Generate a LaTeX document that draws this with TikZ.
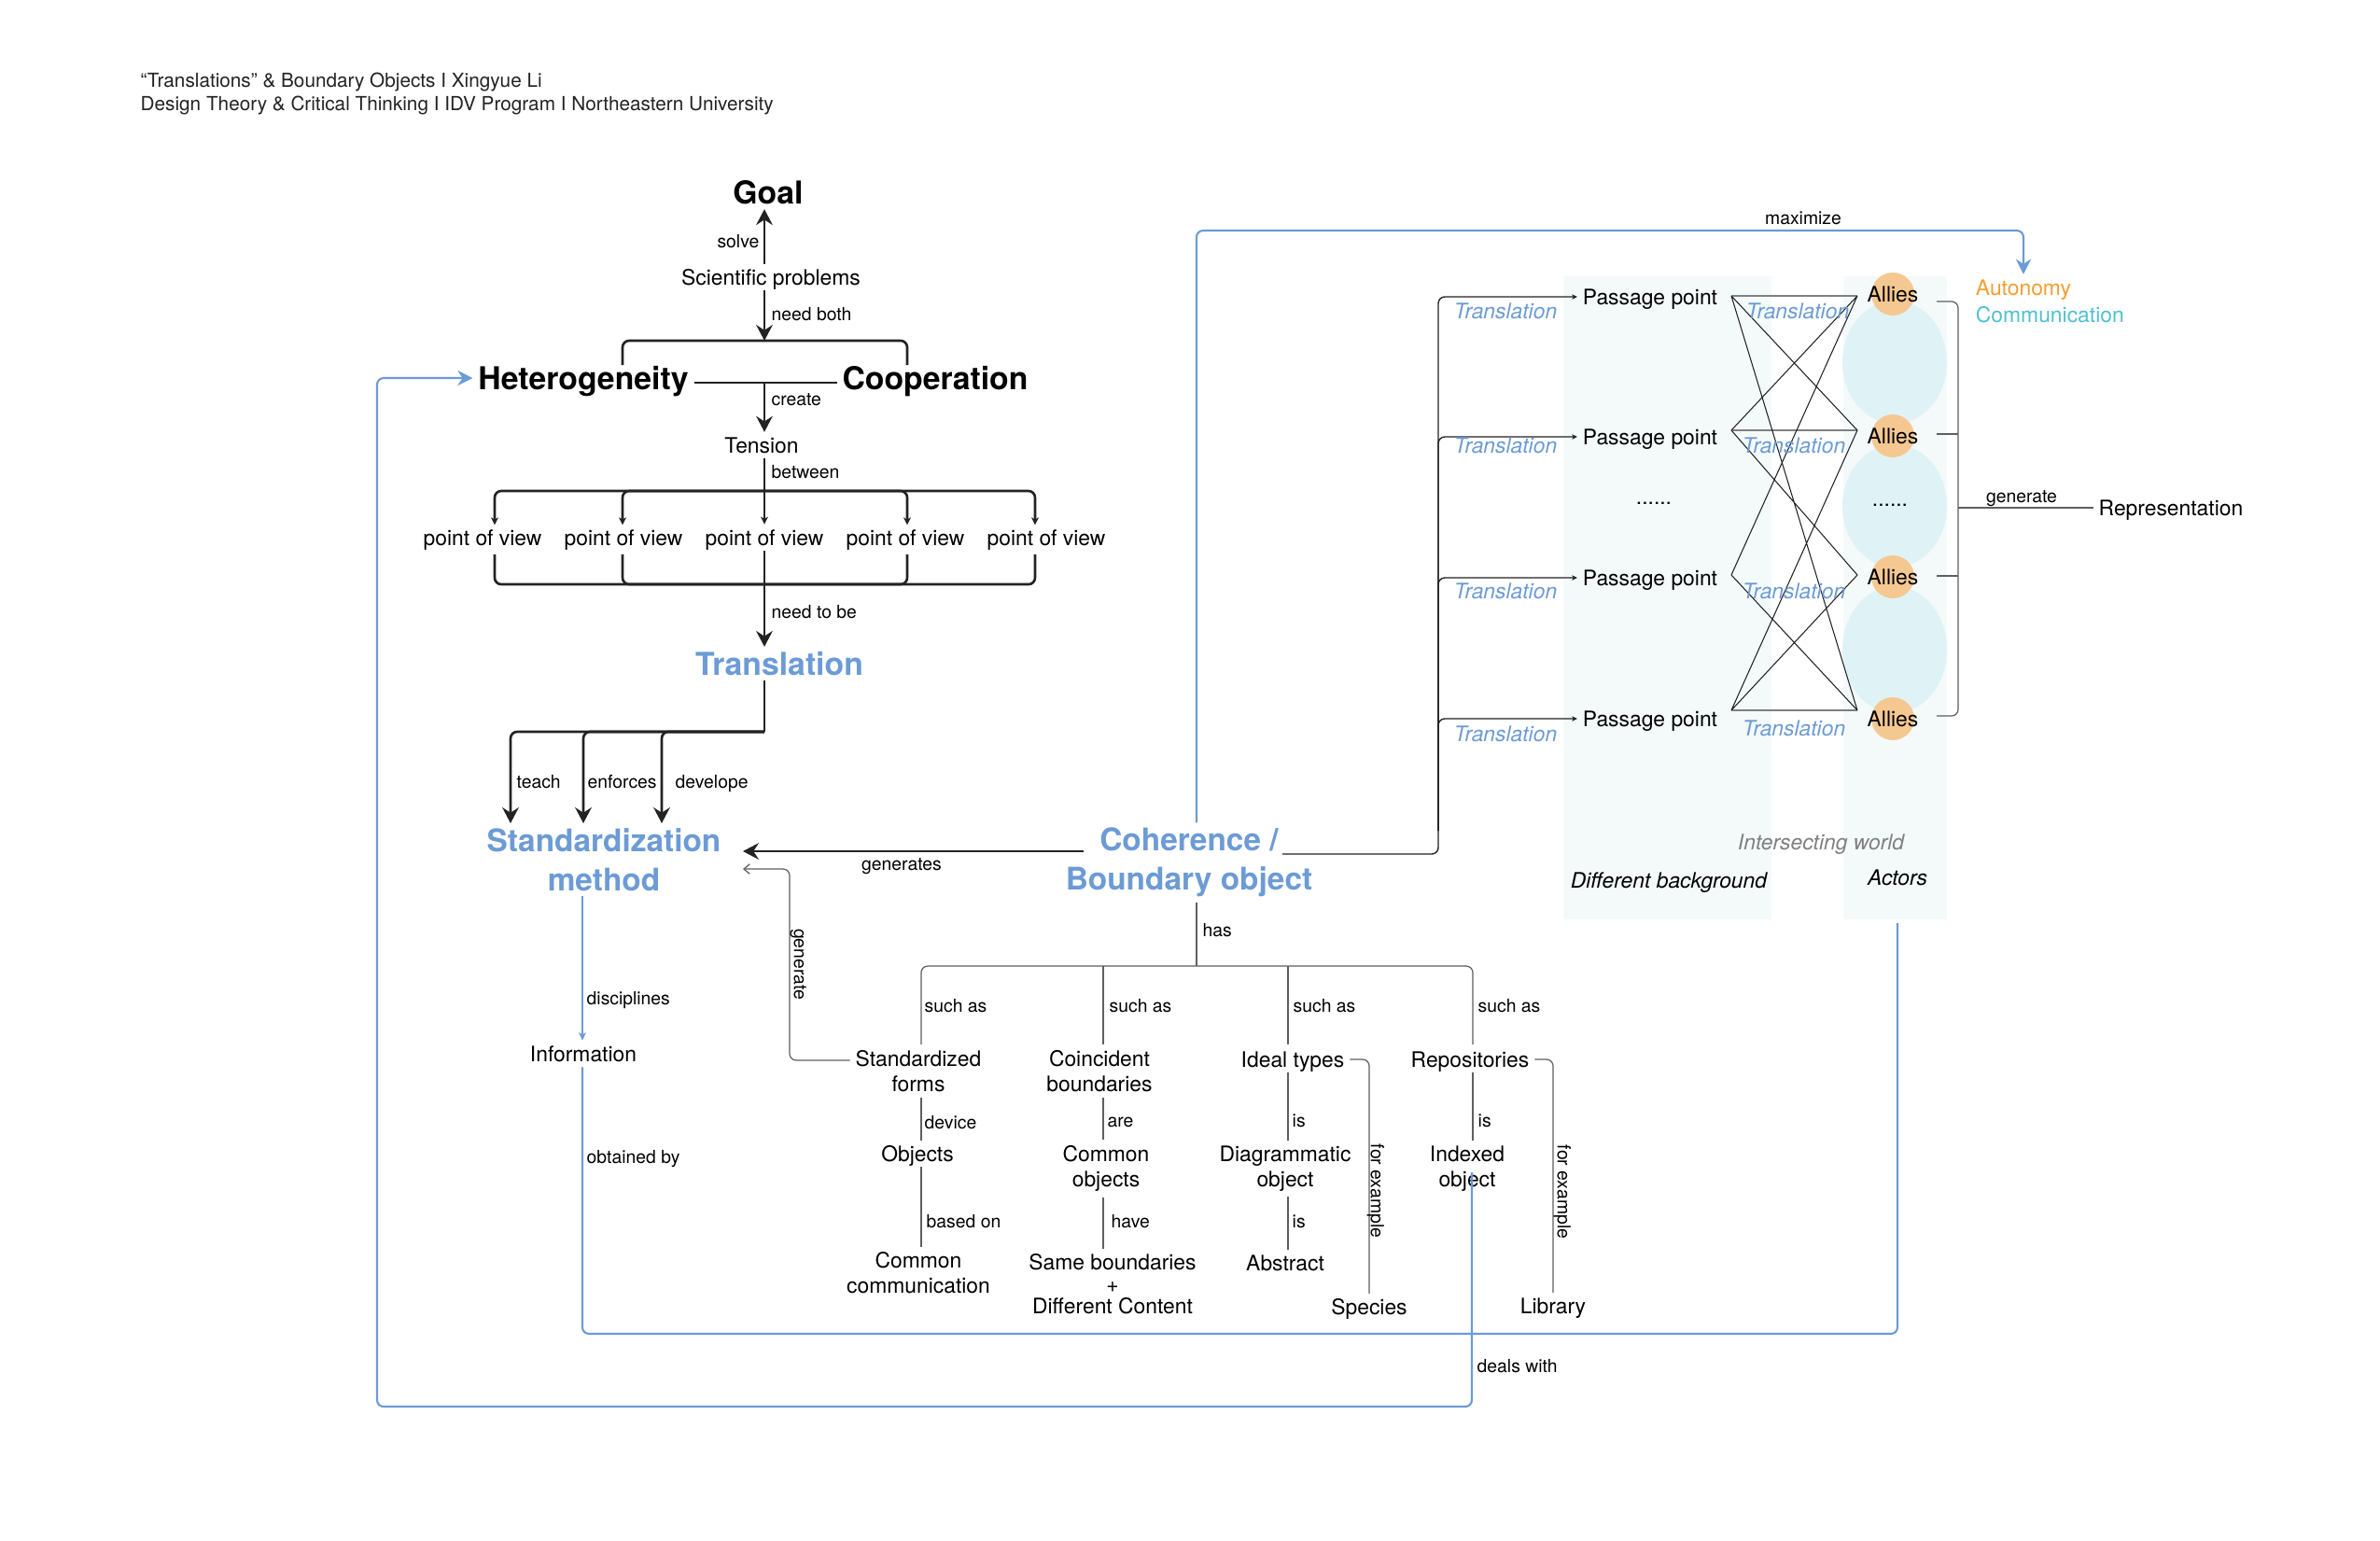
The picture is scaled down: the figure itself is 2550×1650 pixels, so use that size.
\documentclass[tikz,border=0pt]{standalone}
\usepackage{fontspec}
\setmainfont{TeX Gyre Heros}
\usetikzlibrary{arrows.meta}
\definecolor{bl}{RGB}{108,155,213}
\definecolor{org}{RGB}{245,158,50}
\definecolor{tea}{RGB}{80,192,208}
\definecolor{allyc}{RGB}{246,200,145}
\definecolor{ellc}{RGB}{223,243,246}
\definecolor{panc}{RGB}{244,250,250}
\definecolor{gtx}{RGB}{128,128,128}
\definecolor{ln}{RGB}{95,95,95}
\definecolor{dk}{RGB}{35,35,35}
\begin{document}
\begin{tikzpicture}[x=0.01cm,y=-0.01cm,
 hd/.style={inner sep=0pt,font=\fontsize{5.9}{7}\selectfont,text=dk,anchor=west},
 tx/.style={inner sep=1.5pt,font=\fontsize{6.5}{7.8}\selectfont,text height=4.7pt,text depth=0pt},
 ml/.style={inner sep=1.5pt,font=\fontsize{6.5}{7.7}\selectfont,align=center},
 lb/.style={inner sep=0pt,font=\fontsize{5.5}{6.6}\selectfont,text height=4pt,text depth=0pt},
 bg/.style={inner sep=1.5pt,font=\fontsize{9.6}{11.5}\selectfont\bfseries,text height=6.9pt,text depth=0pt},
 bb/.style={inner sep=1.5pt,font=\fontsize{9.5}{11.8}\selectfont\bfseries,text=bl,align=center},
 bbs/.style={inner sep=1.5pt,font=\fontsize{9.6}{11.5}\selectfont\bfseries,text=bl,text height=6.9pt,text depth=0pt},
 itx/.style={inner sep=0pt,font=\fontsize{6.5}{7.8}\selectfont\itshape,text height=4.7pt,text depth=0pt},
 thk/.style={draw=dk,line width=0.75pt},
 thn/.style={draw=ln,line width=0.35pt},
 thd/.style={draw=dk,line width=0.4pt},
 xln/.style={draw=dk,line width=0.3pt},
 hln/.style={draw=gray,line width=0.5pt},
 blu/.style={draw=bl,line width=0.6pt},
 bigarr/.style={-{Stealth[length=4.8pt,width=5pt,inset=1.6pt]}},
 smarr/.style={-{Stealth[length=2.3pt,width=2.2pt,inset=0.6pt]}},
 tinyarr/.style={-{Stealth[length=1.6pt,width=1.5pt,inset=0.4pt]}},
 bluarr/.style={-{Stealth[length=4.6pt,width=4.6pt,inset=1.5pt]}},
 bsmarr/.style={-{Stealth[length=2.4pt,width=2.2pt,inset=0.6pt]}},
 opnarr/.style={-{Straight Barb[length=1.8pt,width=3pt]}},
]
\fill[white] (0,0) rectangle (2550,1650);
\useasboundingbox (0,0) rectangle (2550,1650);

% header
\node[hd] (h1) at (150,88) {“Translations” \& Boundary Objects I Xingyue Li};
\node[hd] (h2) at (150,113) {Design Theory \& Critical Thinking I IDV Program I Northeastern University};

% ---------- top chain ----------
\coordinate (cx) at (819,0);
\node[bg] (goal) at (823,206) {Goal};
\node[tx] (sci) at (826,297) {Scientific problems};
\draw[thk,bigarr] (sci.north -| cx) -- (goal.south -| cx);
\node[lb,anchor=east] at (814,258) {solve};
\coordinate (brt) at (819,365);
\draw[thk,bigarr] (sci.south -| cx) -- (brt);
\node[lb,anchor=west] at (826,336) {need both};
\node[bg] (het) at (625,405) {Heterogeneity};
\node[bg] (coop) at (1002,405) {Cooperation};
\draw[thk,rounded corners=2pt] (667,391) |- (brt) -| (972,391);
\coordinate (hcy) at (0,410);
\draw[thk] (het.east |- hcy) -- (coop.west |- hcy);
\node[tx] (ten) at (816,477) {Tension};
\draw[thk,bigarr] (cx |- hcy) -- (ten.north -| cx);
\node[lb,anchor=west] at (826,427) {create};

\foreach \i/\x in {1/517,2/668,3/819,4/970,5/1121}{\node[tx] (pov\i) at (\x,576) {point of view};}
\coordinate (tb) at (819,526);
\draw[thk,smarr] (ten.south -| cx) -- (pov3.north);
\foreach \x in {530,667,972,1109}{\draw[thk,smarr,rounded corners=2pt] (tb) -| (\x,562.5);}
\node[lb,anchor=west] at (826,505) {between};
\coordinate (pb) at (819,626);
\draw[thk,rounded corners=2pt] (530,594) |- (pb) -| (1109,594);
\draw[thk,rounded corners=2pt] (667,594) |- (pb);
\draw[thk,rounded corners=2pt] (972,594) |- (pb);

\node[bbs] (trn) at (835,711) {Translation};
\draw[thk,bigarr] (pov3.south) -- (trn.north -| cx);
\node[lb,anchor=west] at (826,655) {need to be};

\coordinate (tj) at (819,784);
\draw[thk] (trn.south -| cx) -- (tj);
\node[bb] (std) at (647,921) {Standardization\\method};
\foreach \x in {547,625,709}{\draw[thk,bigarr,rounded corners=2pt] (tj) -| (\x,882);}
\node[lb,anchor=west] at (553,837) {teach};
\node[lb,anchor=west] at (629,837) {enforces};
\node[lb,anchor=west] at (723,837) {develope};

\node[bb] (coh) at (1274,924) {Coherence /\\Boundary object};
\coordinate (gs) at (1161,912);
\coordinate (ge) at (796,912);
\draw[thk,bigarr] (gs) -- (ge);
\node[lb] at (966,925) {generates};

% ---------- right panel ----------
\fill[panc] (1675,296) rectangle (1898,985);
\fill[panc] (1975,296) rectangle (2086,985);
\fill[ellc] (2030,388) ellipse [x radius=0.56cm, y radius=0.66cm];
\fill[ellc] (2030,542) ellipse [x radius=0.56cm, y radius=0.66cm];
\fill[ellc] (2030,696) ellipse [x radius=0.56cm, y radius=0.68cm];

\foreach \i/\y in {1/318,2/468,3/619,4/770}{\node[tx] (pp\i) at (1768,\y) {Passage point};}
\coordinate (cs) at (1374,915);
\draw[thd,tinyarr,rounded corners=2pt] (cs) -| (1541,600) |- (pp1.west);
\foreach \i in {2,3,4}{\draw[thd,tinyarr,rounded corners=2pt] (1541,890) |- (pp\i.west);}
\foreach \y in {333,477,633,786}{\node[itx,text=bl] at (1613,\y) {Translation};}

\foreach \i/\y in {1/317,2/461,3/616,4/761}{\coordinate (p\i) at (1855,\y); \coordinate (a\i) at (1990,\y);}
\draw[hln] (p1) -- (a1) (p2) -- (a2) (p4) -- (a4);
\draw[xln] (p1) -- (a2) (a1) -- (p2) (p1) -- (a4) (a1) -- (p3) (p2) -- (a3) (a2) -- (p4) (p3) -- (a4) (a3) -- (p4);
\node[itx,text=bl] at (1926,333) {Translation};
\node[itx,text=bl] at (1922,477) {Translation};
\node[itx,text=bl] at (1922,633) {Translation};
\node[itx,text=bl] at (1922,780) {Translation};

\foreach \i/\y in {1/315,2/467,3/618,4/770}{\fill[allyc] (2028,\y) circle (0.23cm); \node[tx] (al\i) at (2028,\y) {Allies};}
\node[tx] (dots1) at (1772,532) {......};
\node[tx] (dots2) at (2025,534) {......};

\draw[thn,rounded corners=2pt] (2075,323) -| (2098,767) -- (2075,767);
\draw[thn] (2075,465) -- (2098,465) (2075,617) -- (2098,617);
\node[tx] (rep) at (2326,544) {Representation};
\draw[thn] (2098,544) -- (rep.west);
\node[lb] at (2166,531) {generate};

\node[tx,anchor=west,text=org] (aut) at (2111,308) {Autonomy};
\node[tx,anchor=west,text=tea] (com) at (2111,337) {Communication};
\coordinate (mx) at (1282,0);
\coordinate (my) at (0,247);
\draw[blu,bluarr,rounded corners=2pt] (coh.north -| mx) -- (mx |- my) -| (aut.north);
\node[lb] at (1932,233) {maximize};

\node[itx,text=gtx] at (1951,902) {Intersecting world};
\node[itx] at (1788,943) {Different background};
\node[itx] (act) at (2033,940) {Actors};

% ---------- bottom ----------
\coordinate (hj) at (1282,1035);
\draw[thn] (coh.south -| mx) -- (hj);
\node[lb,anchor=west] at (1288,996) {has};
\draw[thn,rounded corners=2pt] (hj) -| (987,1119);
\draw[thn,rounded corners=2pt] (hj) -| (1578,1119);
\draw[thn] (1182,1035) -- (1182,1119) (1380,1035) -- (1380,1119);
\foreach \x in {990,1188,1385,1583}{\node[lb,anchor=west] at (\x,1077) {such as};}

\coordinate (c1) at (987,0);
\coordinate (c2) at (1182,0);
\coordinate (c3) at (1380,0);
\coordinate (c4) at (1578,0);
\node[ml] (sf) at (984,1148) {Standardized\\forms};
\node[ml] (ci) at (1178,1148) {Coincident\\boundaries};
\node[tx] (ide) at (1385,1135) {Ideal types};
\node[tx] (rpo) at (1575,1135) {Repositories};
\node[tx] (obj) at (983,1236) {Objects};
\node[ml] (cob) at (1185,1252) {Common\\objects};
\node[ml] (dia) at (1377,1252) {Diagrammatic\\object};
\node[ml] (ind) at (1572,1252) {Indexed\\object};
\node[ml] (cc) at (984,1364) {Common\\communication};
\node[ml,font=\fontsize{6.5}{6.7}\selectfont] (same) at (1192,1376) {Same boundaries\\+\\Different Content};
\node[tx] (abs) at (1377,1353) {Abstract};
\node[tx] (spe) at (1467,1400) {Species};
\node[tx] (lib) at (1664,1399) {Library};
\node[tx] (info) at (625,1129) {Information};

\draw[thn] (sf.south -| c1) -- (obj.north -| c1);
\draw[thn] (obj.south -| c1) -- (cc.north -| c1);
\draw[thn] (ci.south -| c2) -- (cob.north -| c2);
\draw[thn] (cob.south -| c2) -- (same.north -| c2);
\draw[thn] (ide.south -| c3) -- (dia.north -| c3);
\draw[thn] (dia.south -| c3) -- (abs.north -| c3);
\draw[thn] (rpo.south -| c4) -- (ind.north -| c4);
\node[lb,anchor=west] at (990,1202) {device};
\node[lb,anchor=west] at (992,1308) {based on};
\node[lb,anchor=west] at (1186,1200) {are};
\node[lb,anchor=west] at (1190,1308) {have};
\node[lb,anchor=west] at (1384,1200) {is};
\node[lb,anchor=west] at (1384,1308) {is};
\node[lb,anchor=west] at (1583,1200) {is};

\draw[thn,rounded corners=2pt] (ide.east) -| (spe.north);
\draw[thn,rounded corners=2pt] (rpo.east) -| (lib.north);
\node[lb,rotate=-90] at (1476,1276) {for example};
\node[lb,rotate=-90] at (1676,1277) {for example};

\coordinate (gl) at (0,1136);
\draw[thn,opnarr,rounded corners=2pt] (sf.west |- gl) -| (846,931) -- (796,931);
\node[lb,rotate=-90] at (858,1033) {generate};

% blue connectors
\coordinate (dx) at (624,0);
\draw[blu,bsmarr] (std.south -| dx) -- (info.north -| dx);
\node[lb,anchor=west] at (628,1069) {disciplines};
\draw[blu,rounded corners=2pt] (info.south -| dx) |- (2033,1429) -- (act.south |- 0,989);
\node[lb,anchor=west] at (628,1239) {obtained by};
\draw[blu,bluarr,rounded corners=2pt] (1577,1256) |- (404,1507) |- (het.west);
\node[lb,anchor=west] at (1582,1463) {deals with};
\end{tikzpicture}
\end{document}
